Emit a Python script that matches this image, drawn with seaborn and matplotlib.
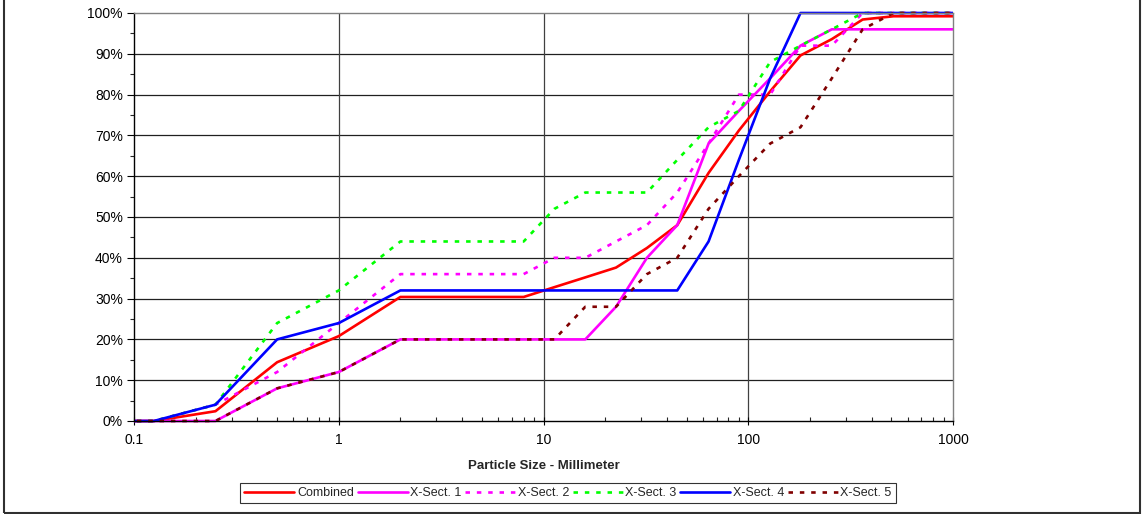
import matplotlib
matplotlib.use("Agg")
import matplotlib.pyplot as plt
import matplotlib.ticker as mticker
from matplotlib.patches import Rectangle
from matplotlib.lines import Line2D
import numpy as np
import pandas as pd
import seaborn as sns

# Sieve sizes (mm) and cumulative percent finer for each sampling cross-section
sizes = [0.062, 0.125, 0.25, 0.5, 1, 2, 4, 5.7, 8, 11.3, 16, 22.6, 32, 45,
         64, 90, 128, 180, 256, 362, 512, 1024]
combined = [0, 0, 2.4, 14.4, 20.8, 30.4, 30.4, 30.4, 30.4, 32.8, 35.2, 37.6,
            42.4, 48, 60.8, 71.2, 80.8, 89.6, 93.6, 98.4, 99.2, 99.2]
xsect1 = [0, 0, 0, 8, 12, 20, 20, 20, 20, 20, 20, 28, 40, 48, 68, 76, 84, 92,
          96, 96, 96, 96]
xsect2 = [0, 0, 4, 12, 24, 36, 36, 36, 36, 40, 40, 44, 48, 56, 68, 80, 80, 92,
          92, 100, 100, 100]
xsect3 = [0, 0, 4, 24, 32, 44, 44, 44, 44, 52, 56, 56, 56, 64, 72, 76, 88, 92,
          96, 100, 100, 100]
xsect4 = [0, 0, 4, 20, 24, 32, 32, 32, 32, 32, 32, 32, 32, 32, 44, 64, 84, 100,
          100, 100, 100, 100]
xsect5 = [0, 0, 0, 8, 12, 20, 20, 20, 20, 20, 28, 28, 36, 40, 52, 60, 68, 72,
          84, 96, 100, 100]

series_names = ["Combined", "X-Sect. 1", "X-Sect. 2", "X-Sect. 3", "X-Sect. 4", "X-Sect. 5"]
series_values = [combined, xsect1, xsect2, xsect3, xsect4, xsect5]

colors = {"Combined": "#FF0000", "X-Sect. 1": "#FF00FF", "X-Sect. 2": "#FF00FF",
          "X-Sect. 3": "#00FF00", "X-Sect. 4": "#0000FF", "X-Sect. 5": "#800000"}
dot = (1.7, 2.6)
dashes = {"Combined": "", "X-Sect. 1": "", "X-Sect. 2": dot,
          "X-Sect. 3": dot, "X-Sect. 4": "", "X-Sect. 5": dot}

df = pd.concat(
    [pd.DataFrame({"size": sizes, "pct": vals, "series": name})
     for name, vals in zip(series_names, series_values)],
    ignore_index=True,
)

sns.set_style("white")
plt.rcParams["font.family"] = ["Liberation Sans", "DejaVu Sans"]
plt.rcParams["lines.dash_capstyle"] = "butt"

fig = plt.figure(figsize=(11.43, 5.14), dpi=100)
ax = fig.add_axes([134 / 1143, 93 / 514, (953 - 134) / 1143, (421 - 13) / 514])

lw = 1.9
sns.lineplot(data=df, x="size", y="pct", hue="series", style="series",
             palette=colors, dashes=dashes, linewidth=lw, sort=False,
             estimator=None, legend=False, ax=ax)

ax.set_xscale("log")
ax.set_xlim(0.1, 1000)
ax.set_ylim(0, 100)

# let lines sitting on 0 % / 100 % show fully on the frame
clip = Rectangle((0, -0.01), 1, 1.02, transform=ax.transAxes)
for ln in ax.get_lines():
    ln.set_clip_path(clip)

ax.set_yticks(np.arange(0, 101, 10))
ax.set_yticks(np.arange(0, 101, 5), minor=True)
ax.yaxis.set_major_formatter(mticker.PercentFormatter(decimals=0))
ax.xaxis.set_major_locator(mticker.FixedLocator([0.1, 1, 10, 100, 1000]))
ax.xaxis.set_major_formatter(mticker.FixedFormatter(["0.1", "1", "10", "100", "1000"]))
ax.xaxis.set_minor_locator(mticker.LogLocator(base=10, subs=np.arange(2, 10)))
ax.xaxis.set_minor_formatter(mticker.NullFormatter())

ax.tick_params(axis="y", which="major", direction="out", length=5, width=0.8,
               labelsize=10, colors="black", left=True, pad=3)
ax.tick_params(axis="y", which="minor", direction="out", length=3, width=0.8, left=True)
ax.tick_params(axis="x", which="major", direction="inout", length=6, width=0.8,
               labelsize=10, colors="black", bottom=True, pad=6)
ax.tick_params(axis="x", which="minor", direction="in", length=3, width=0.8, bottom=True)

for y in range(10, 100, 10):
    ax.axhline(y, color="#202020", lw=0.9, zorder=0.5)
for x in [1, 10, 100]:
    ax.axvline(x, color="#404040", lw=0.9, zorder=0.5)

for side in ["top", "right"]:
    ax.spines[side].set_color("#808080")
    ax.spines[side].set_linewidth(1.0)
for side in ["left", "bottom"]:
    ax.spines[side].set_color("black")
    ax.spines[side].set_linewidth(1.0)

ax.set_ylabel("")
ax.set_xlabel("Particle Size - Millimeter", fontsize=9.5, fontweight="bold", labelpad=9)

handles = [Line2D([], [], color=colors[n], lw=lw,
                  linestyle=(0, dashes[n]) if dashes[n] else "-")
           for n in series_names]
leg = fig.legend(handles, series_names, loc="center", bbox_to_anchor=(568 / 1143, 21 / 514),
                 ncol=6, fontsize=9, frameon=True, fancybox=False, edgecolor="black",
                 handlelength=4.0, handletextpad=0.2, columnspacing=0.3,
                 borderpad=0.35, borderaxespad=0)
leg.get_frame().set_linewidth(0.8)

# outer chart border
fig.add_artist(Rectangle((4 / 1143, 1.5 / 514), (1140 - 4) / 1143, 1.2,
                         transform=fig.transFigure, fill=False,
                         edgecolor="#303030", lw=1.5))

fig.savefig("out.png", dpi=100, facecolor="white")
